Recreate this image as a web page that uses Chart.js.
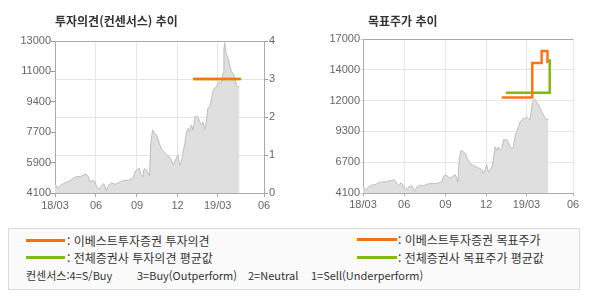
<!DOCTYPE html>
<html lang="ko">
<head>
<meta charset="UTF-8">
<title>투자의견 / 목표주가 추이</title>
<script src="https://cdn.jsdelivr.net/npm/chart.js@4"></script>
<style>
  body { margin: 0; background: #fff; }
  .wrap { position: relative; width: 590px; height: 300px; font-family: "Noto Sans CJK KR", sans-serif; }
  canvas { position: absolute; top: 0; }
  .title { position: absolute; top: 12px; font-size: 12px; font-weight: bold; color: #333; line-height: 18px; }
  .legend { position: absolute; left: 8px; top: 228px; width: 570px; height: 60px; border: 1px solid #dcdcdc; background: #fafafa; }
  .item { position: absolute; font-size: 12px; color: #333; line-height: 16px; white-space: nowrap; }
  .mark { position: absolute; height: 3px; }
  .cons { position: absolute; top: 268px; font-size: 11px; color: #333; line-height: 14px; white-space: nowrap; }
</style>
</head>
<body>
<div class="wrap">
  <canvas id="opinionChart" width="295" height="218" style="left:0"></canvas>
  <canvas id="targetChart" width="295" height="218" style="left:295px"></canvas>
  <div class="title" style="left:55px">투자의견(컨센서스) 추이</div>
  <div class="title" style="left:368px">목표주가 추이</div>

  <div class="legend"></div>
  <div class="mark" style="left:26px;top:239px;width:39px;background:#f47216"></div>
  <div class="item" style="left:67px;top:233px">: 이베스트투자증권 투자의견</div>
  <div class="mark" style="left:26px;top:256px;width:39px;background:#80bb12"></div>
  <div class="item" style="left:67px;top:250px">: 전체증권사 투자의견 평균값</div>
  <div class="mark" style="left:357px;top:238px;width:40px;background:#f47216"></div>
  <div class="item" style="left:398px;top:232px">: 이베스트투자증권 목표주가</div>
  <div class="mark" style="left:357px;top:256px;width:40px;background:#80bb12"></div>
  <div class="item" style="left:398px;top:250px">: 전체증권사 목표주가 평균값</div>

  <span class="cons" style="left:26px">컨센서스:4=S/Buy</span>
  <span class="cons" style="left:137px">3=Buy(Outperform)</span>
  <span class="cons" style="left:248px">2=Neutral</span>
  <span class="cons" style="left:311px">1=Sell(Underperform)</span>
</div>

<script>
  // 날짜: 2018-03-01 기준 경과일
  const days = [0,6,12,19,27,34,42,49,57,64,70,75,79,85,90,94,100,105,110,115,120,127,135,142,150,157,165,172,176,180,185,189,192,197,200,206,212,215,219,224,229,234,239,244,250,256,261,265,269,273,276,280,284,288,291,295,299,302,306,310,314,317,321,325,329,332,336,340,343,347,351,355,358,362,366,370,373,377,379,381,384,388,392,396,399,403,407,410,414];

  // 주가 (투자의견 차트)
  const priceA = [4650,4350,4550,4650,4750,4840,4980,5080,5040,5160,5200,5040,4750,4840,4750,4410,4350,4550,4650,4220,4550,4690,4610,4690,4790,4840,4840,4940,5040,5390,5470,5570,5250,5050,5530,5430,5100,7010,7790,7600,7450,7000,6700,6520,6330,6230,6030,5740,5930,6200,6330,5740,5930,6620,6910,7690,7890,7690,8080,7790,8570,8610,8530,8270,8080,8270,7830,8370,9060,9160,9540,10130,10230,10320,10560,10600,10560,11110,12470,12900,12280,11990,11590,11200,11110,10910,10420,10320,10320];

  // 주가 (목표주가 차트)
  const priceB = [4660,4320,4600,4750,4800,4940,5030,5030,5080,5170,5220,4940,4750,4940,4750,4380,4520,4660,4690,4240,4600,4750,4690,4830,4890,4890,4890,5000,5030,5500,5590,5500,5400,5310,5500,5650,5030,6990,7690,7550,7400,6900,6570,6450,6340,6230,6150,6060,5730,6060,6510,5870,6010,6290,6850,7970,7690,7970,7690,7830,8590,8530,8590,8310,7970,7830,7970,8950,9230,9650,10070,10210,10350,10350,10490,10350,10210,11330,11700,11900,11950,11750,11470,11190,10910,10630,10350,10270,10270];

  // 투자의견 (4=S/Buy ... 1=Sell)
  const opinionDays = [310, 413];
  const opinionEbest = [3, 3];
  const opinionAvgDays = [310, 418];
  const opinionAvg = [3, 3];

  // 목표주가
  const targetDays = [310, 378, 399, 412];
  const targetEbest = [12100, 15000, 16000, 15000];
  const targetAvgDays = [319, 417, 417];
  const targetAvg = [12500, 12500, 15300];

  // 축 눈금
  const xTickDays = [0, 92, 184, 275, 365, 469];
  const xTickLabels = ['18/03', '06', '09', '12', '19/03', '06'];
  const priceTicksA = ['4100', '5900', '7700', '9400', '11000', '13000'];
  const priceTicksB = ['4100', '6700', '9300', '12000', '14000', '17000'];
  const opinionTicks = ['0', '1', '2', '3', '4'];

  const ORANGE = '#ff7410';
  const GREEN = '#7fba0c';
  const tickFont = { family: 'Liberation Sans, Arial, sans-serif', size: 11 };
  const tickColor = '#666';

  const toPoints = (xs, ys) => xs.map((x, i) => ({ x: x, y: ys[i] }));

  function evenTicks(labels) {
    return scale => {
      const step = (scale.max - scale.min) / (labels.length - 1);
      scale.ticks = labels.map((_, i) => ({ value: scale.min + i * step }));
    };
  }

  function xScale(tickLen) {
    return {
      type: 'linear',
      min: 0,
      max: 469,
      afterBuildTicks: s => { s.ticks = xTickDays.map(v => ({ value: v })); },
      afterFit: s => { s.height = 25; },
      ticks: {
        autoSkip: false, maxRotation: 0, padding: 2,
        font: tickFont, color: tickColor,
        callback: (v, i) => xTickLabels[i]
      },
      grid: { color: '#e6e6e6', tickColor: '#aaa', tickLength: tickLen },
      border: { color: '#aaa' }
    };
  }

  function areaDataset(prices, axis) {
    return {
      data: toPoints(days, prices),
      yAxisID: axis,
      fill: 'start',
      backgroundColor: '#dfdfdf',
      borderColor: '#bdbdbd',
      borderWidth: 1,
      pointRadius: 0,
      tension: 0
    };
  }

  const common = {
    responsive: false,
    animation: false,
    devicePixelRatio: 1,
    plugins: { legend: { display: false }, tooltip: { enabled: false } }
  };

  // 투자의견(컨센서스) 추이
  new Chart(document.getElementById('opinionChart'), {
    type: 'line',
    data: {
      datasets: [
        { data: toPoints(opinionDays, opinionEbest), yAxisID: 'y2', borderColor: ORANGE, borderWidth: 2.5, pointRadius: 0, fill: false },
        { data: toPoints(opinionAvgDays, opinionAvg), yAxisID: 'y2', borderColor: GREEN, borderWidth: 2.5, pointRadius: 0, fill: false },
        areaDataset(priceA, 'y')
      ]
    },
    options: {
      ...common,
      layout: { padding: { top: 41, left: 0, right: 0, bottom: 0 } },
      scales: {
        x: xScale(4),
        y: {
          position: 'left',
          min: 4100, max: 13000,
          afterBuildTicks: evenTicks(priceTicksA),
          afterFit: s => { s.width = 55; },
          ticks: { padding: 0, font: tickFont, color: tickColor, callback: (v, i) => priceTicksA[i] },
          grid: { drawOnChartArea: false, tickColor: '#999', tickLength: 4 },
          border: { color: '#aaa' }
        },
        y2: {
          position: 'right',
          min: 0, max: 4,
          afterBuildTicks: evenTicks(opinionTicks),
          afterFit: s => { s.width = 31; },
          ticks: { padding: 1, font: tickFont, color: tickColor, callback: (v, i) => opinionTicks[i] },
          grid: { color: c => (c.tick && c.tick.value === 4 ? '#aaa' : '#e6e6e6'), tickColor: '#999', tickLength: 4 },
          border: { color: '#aaa' }
        }
      }
    }
  });

  // 목표주가 추이
  new Chart(document.getElementById('targetChart'), {
    type: 'line',
    data: {
      datasets: [
        { data: toPoints(targetDays, targetEbest), yAxisID: 'y', borderColor: ORANGE, borderWidth: 2.5, pointRadius: 0, fill: false, stepped: true },
        { data: toPoints(targetAvgDays, targetAvg), yAxisID: 'y', borderColor: GREEN, borderWidth: 2.5, pointRadius: 0, fill: false },
        areaDataset(priceB, 'y')
      ]
    },
    options: {
      ...common,
      layout: { padding: { top: 39, left: 0, right: 17, bottom: 0 } },
      scales: {
        x: xScale(3),
        y: {
          position: 'left',
          min: 4100, max: 17000,
          afterBuildTicks: evenTicks(priceTicksB),
          afterFit: s => { s.width = 68; },
          ticks: { padding: 0, font: tickFont, color: tickColor, callback: (v, i) => priceTicksB[i] },
          grid: { color: c => (c.tick && c.tick.value === 17000 ? '#aaa' : '#e6e6e6'), tickColor: '#ddd', tickLength: 3 },
          border: { color: '#aaa' }
        }
      }
    }
  });
</script>
</body>
</html>
